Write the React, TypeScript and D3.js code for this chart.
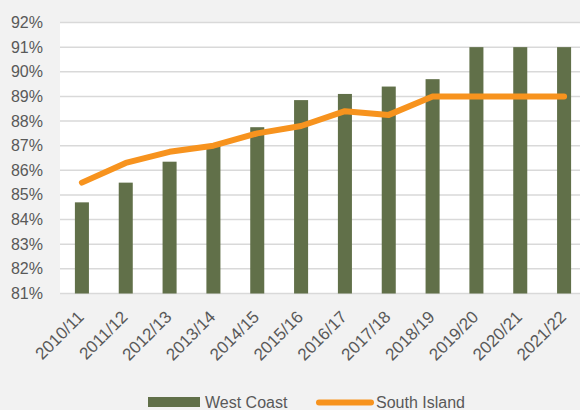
import React from "react";
import * as d3 from "d3";

const categories = ["2010/11","2011/12","2012/13","2013/14","2014/15","2015/16","2016/17","2017/18","2018/19","2019/20","2020/21","2021/22"];
const westCoast = [84.7, 85.5, 86.35, 87.0, 87.75, 88.85, 89.1, 89.4, 89.7, 91.0, 91.0, 91.0];
const southIsland = [85.5, 86.3, 86.75, 87.0, 87.5, 87.8, 88.4, 88.25, 89.0, 89.0, 89.0, 89.0];
const yTicks = [81, 82, 83, 84, 85, 86, 87, 88, 89, 90, 91, 92];

const W = 580, H = 410;
const FONT = "'Liberation Sans', Arial, sans-serif";
const TEXT = "#595959";
const BAR = "#617049";
const ORANGE = "#f7931e";

export default function App() {
  const y = d3.scaleLinear().domain([81, 92]).range([293.5, 22.5]);
  const x = d3.scaleBand<string>().domain(categories).range([60, 586]).paddingInner(0.68).paddingOuter(0.34);
  const cx = (c: string) => (x(c) as number) + x.bandwidth() / 2;
  const line = d3.line<number>().x((_, i) => cx(categories[i])).y(d => y(d));

  return (
    <svg width={W} height={H} style={{ position: "absolute", left: 0, top: 0 }} fontFamily={FONT}>
      <rect x={0} y={0} width={W} height={H} fill="#f2f2f2" />
      <rect x={60} y={y(92)} width={W - 60} height={y(81) - y(92)} fill="#ffffff" />
      {yTicks.map(t => (
        <g key={t}>
          <line x1={60} x2={W} y1={y(t)} y2={y(t)} stroke="#d9d9d9" strokeWidth={1.5} />
          <text x={43} y={y(t) + 5.5} textAnchor="end" fontSize={16} fill={TEXT}>{t}%</text>
        </g>
      ))}
      {categories.map((c, i) => (
        <rect key={c} x={x(c)} y={y(westCoast[i])} width={x.bandwidth()} height={y(81) - y(westCoast[i])} fill={BAR} />
      ))}
      <path d={line(southIsland) || ""} fill="none" stroke={ORANGE} strokeWidth={6} strokeLinejoin="round" strokeLinecap="round" />
      {categories.map(c => (
        <text key={c} transform={`translate(${cx(c) + 3},318) rotate(-45)`} textAnchor="end" fontSize={17} fill={TEXT}>{c}</text>
      ))}
      <rect x={148} y={397} width={52} height={10} fill={BAR} />
      <text x={205} y={408} fontSize={16} fill={TEXT}>West Coast</text>
      <line x1={319} x2={371} y1={402.5} y2={402.5} stroke={ORANGE} strokeWidth={6} strokeLinecap="round" />
      <text x={376} y={408} fontSize={16} fill={TEXT}>South Island</text>
    </svg>
  );
}
